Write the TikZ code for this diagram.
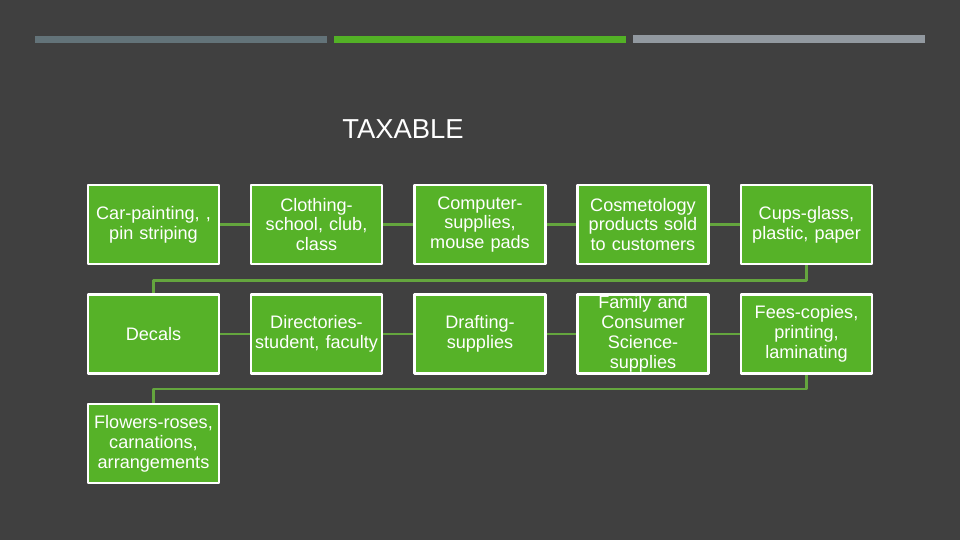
\documentclass[tikz,border=0pt]{standalone}
\usepackage{fontspec}
\setmainfont{Liberation Sans}
\definecolor{bgdark}{RGB}{64,64,64}
\definecolor{barslate}{RGB}{99,115,121}
\definecolor{bargreen}{RGB}{83,177,38}
\definecolor{bargray}{RGB}{146,153,160}
\definecolor{boxgreen}{RGB}{86,178,40}
\definecolor{linkgreen}{RGB}{100,165,62}
\begin{document}
\begin{tikzpicture}[x=0.02cm,y=-0.02cm,line join=round,
	item/.style={draw=white,line width=1.6pt,fill=boxgreen,text=white,minimum width=2.62cm,minimum height=1.58cm,text width=2.58cm,align=center,inner sep=0pt,font=\fontsize{10.3}{11.3}\selectfont},
	link/.style={draw=linkgreen,line width=1.3pt}]
	\fill[bgdark] (0,0) rectangle (960,540);
	\fill[barslate] (35,36) rectangle (327,43);
	\fill[bargreen] (334,36) rectangle (626,43);
	\fill[bargray] (633,35) rectangle (925,43);
	\node[text=white,font=\fontsize{15.6}{18}\selectfont] (title) at (403,129) {TAXABLE};
	% first row
	\node[item] (car) at (153.5,224.5) {Car-painting, ,\\pin striping};
	\node[item] (cloth) at (316.5,224.5) {Clothing-\\school, club,\\class};
	\node[item] (comp) at (480,224.5) {Computer-\\supplies,\\mouse pads};
	\node[item] (cosm) at (643,224.5) {Cosmetology\\products sold\\to customers};
	\node[item] (cups) at (806.5,224.5) {Cups-glass,\\plastic, paper};
	% second row
	\node[item] (decal) at (153.5,334) {Decals};
	\node[item] (dir) at (316.5,334) {Directories-\\student, faculty};
	\node[item] (draft) at (480,334) {Drafting-\\supplies};
	\node[item] (fam) at (643,334) {Family and\\Consumer\\Science-\\supplies};
	\node[item] (fees) at (806.5,334) {Fees-copies,\\printing,\\laminating};
	% third row
	\node[item] (flow) at (153.5,443.5) {Flowers-roses,\\carnations,\\arrangements};
	\draw[link] (car)--(cloth) (cloth)--(comp) (comp)--(cosm) (cosm)--(cups);
	\draw[link] (decal)--(dir) (dir)--(draft) (draft)--(fam) (fam)--(fees);
	\draw[link] (cups.south) -- ++(0,15) -| (decal.north);
	\draw[link] (fees.south) -- ++(0,14) -| (flow.north);
\end{tikzpicture}
\end{document}
